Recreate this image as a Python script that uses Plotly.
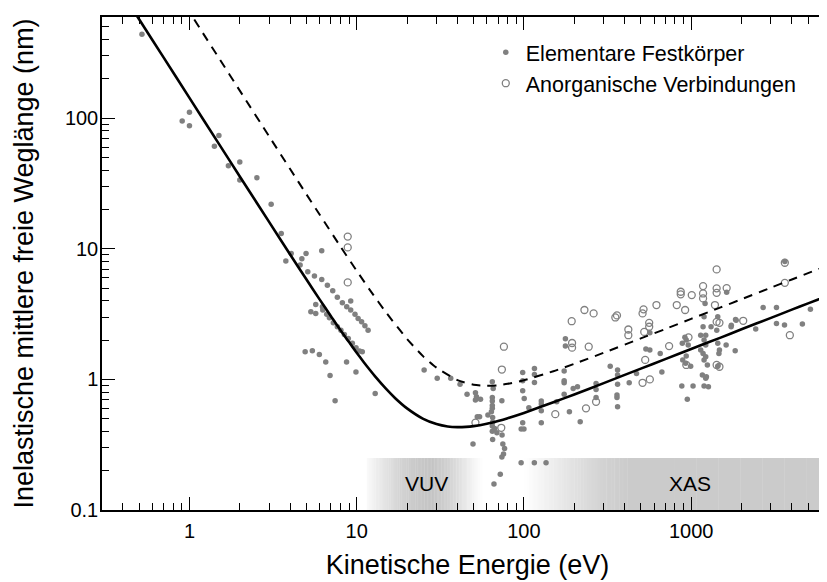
import math
import plotly.graph_objects as go

# ---------------- data ----------------
# Elementare Festkörper (filled dots): kinetic energy (eV), IMFP (nm)
elem_E = [0.52, 0.905, 1.0, 1.0, 1.50, 1.41, 1.71, 2.0, 2.0, 2.53, 3.08, 3.54, 3.77, 4.06, 4.70,
          4.98, 4.59, 5.1, 6.18, 5.59, 6.18, 6.68, 7.19, 7.66, 9.21, 8.21, 8.72, 9.21, 9.77, 10.2,
          10.7, 11.2, 11.7, 5.69, 6.24, 5.32, 5.69, 6.27, 6.62, 6.87, 7.25, 7.66, 8.05, 8.44, 8.91,
          9.42, 9.91, 10.4, 10.8, 4.92, 5.43, 5.98, 6.53, 8.7, 6.93, 9.9, 12.9, 7.43,
          25.3, 30.3, 36.5, 41.5, 45.7, 51.3, 52, 51.3, 55, 64.7, 64.7, 64.7, 64.7, 63.9, 73.8,
          60.9, 54.3, 52.6, 65, 65, 66.8, 68.9, 65, 49.6, 74.8, 76.6, 75.5, 73.8, 72.2, 66.2,
          96.2, 115.4, 135.6, 64.7, 64.7, 64.7, 74, 65.5,
          98.3, 98.3, 98.3, 100.4, 115.6, 115.6, 115.6, 107, 98.3, 96.3, 100, 127, 127, 127, 127,
          157, 177, 177, 174, 174, 174, 174, 187, 197, 209, 217, 270, 270, 270, 328, 363, 363,
          363, 360, 360, 363, 426, 471,
          536, 566, 653, 668, 566, 917, 934, 885, 960, 890, 927, 993, 934, 879, 1026, 948, 1194,
          1178, 1222, 1140, 1194, 1222, 1140, 1178, 1222, 1194, 1250, 1167, 1233, 1222, 1194,
          1268, 1315, 1422, 1442, 1476, 1465, 1442, 1618, 1733, 1857, 1833, 1211, 1442, 1630,
          3631, 2693, 3236, 3236, 3614, 4624, 5164, 1842, 1738, 2432]
elem_L = [440, 95, 111, 87.5, 73.8, 61, 43.2, 46.1, 33.6, 35, 21.9, 13.1, 8.05, 9.2, 8.4,
          9.2, 7.5, 6.67, 9.66, 6.2, 5.83, 5.27, 4.77, 4.25, 3.98, 3.86, 3.6, 3.4, 3.15, 2.93,
          2.76, 2.57, 2.38, 3.75, 3.6, 3.29, 3.2, 3.4, 3.15, 2.96, 2.71, 2.53, 2.38, 2.21, 2.06,
          1.89, 1.75, 1.65, 1.63, 1.63, 1.66, 1.55, 1.36, 1.36, 1.07, 1.14, 0.78, 0.686,
          1.18, 1.02, 1.02, 0.92, 0.77, 0.79, 0.736, 0.694, 0.706, 0.96, 0.728, 0.682, 0.60, 0.565,
          0.686, 0.533, 0.518, 0.518, 0.511, 0.469, 0.42, 0.39, 0.347, 0.32, 0.32, 0.296, 0.268,
          0.255, 0.188, 0.158, 0.23, 0.23, 0.23, 0.63, 0.44, 0.40, 0.375, 0.853,
          1.13, 0.976, 0.818, 0.715, 1.21, 1.09, 0.948, 0.606, 0.466, 0.417, 0.417, 0.682, 0.647,
          0.575, 0.466, 0.674, 2.05, 1.80, 1.16, 0.976, 0.942, 0.768, 0.565, 0.853, 0.877, 0.473,
          0.932, 0.838, 0.728, 1.26, 1.18, 1.08, 0.92, 0.76, 0.728, 0.617, 0.942, 1.11,
          1.71, 1.68, 1.58, 1.14, 2.28, 2.1, 2.0, 1.89, 1.83, 1.41, 1.33, 1.26, 1.51, 0.889, 0.889,
          0.706, 3.02, 2.53, 2.18, 2.18, 2.0, 1.83, 1.68, 1.58, 1.49, 1.41, 1.29, 1.08, 1.05, 1.02,
          0.889, 0.878, 2.53, 2.38, 1.89, 1.68, 1.58, 1.26, 1.83, 2.53, 2.84, 1.66, 3.82, 3.02,
          4.65, 8.0, 3.56, 3.56, 2.68, 2.61, 2.65, 3.44, 2.88, 2.6, 2.43]

# Anorganische Verbindungen (open circles)
comp_E = [8.84, 8.84, 8.84, 75.9, 73.8, 51.3, 73.2, 193, 230, 261, 352, 360, 194, 194, 244,
          421, 421, 154, 235, 270, 519, 512, 620, 561, 561, 524, 531, 512, 566, 738, 820, 866,
          866, 920, 1008, 1178, 1178, 1178, 1420, 1420, 1420, 1630, 1387, 1420, 1476, 964, 935,
          1420, 1476, 3631, 3631, 2047, 3890]
comp_L = [12.4, 10.25, 5.53, 1.78, 1.19, 0.466, 0.426, 2.79, 3.4, 3.2, 2.98, 3.09, 1.9, 1.75,
          1.78, 2.41, 2.18, 0.542, 0.60, 0.674, 3.44, 3.2, 3.71, 2.71, 2.53, 2.31, 1.41, 0.942,
          1.0, 1.8, 3.71, 4.69, 4.48, 3.4, 4.42, 5.18, 4.55, 4.17, 6.95, 4.98, 4.6, 5.0, 3.71,
          2.76, 2.71, 2.1, 1.29, 1.29, 1.25, 7.82, 5.49, 2.81, 2.18]

# Universal curve, elements (solid line)
curve_elem_E = [0.45, 0.5, 0.7, 1, 1.5, 2, 3, 4, 5, 6, 7, 8, 9, 10, 11, 12, 13, 15, 17, 20, 25,
                30, 35, 40, 45, 50, 60, 70, 80, 100, 150, 200, 300, 500, 700, 1000, 1500, 2000,
                3000, 4000, 5000, 6500, 8000]
curve_elem_L = [706, 572, 292, 143, 63.6, 35.8, 16.0, 9.05, 5.84, 4.10, 3.06, 2.38, 1.93, 1.60,
                1.36, 1.18, 1.04, 0.845, 0.718, 0.60, 0.499, 0.455, 0.436, 0.431, 0.433, 0.439,
                0.458, 0.481, 0.505, 0.554, 0.668, 0.767, 0.937, 1.21, 1.43, 1.71, 2.09, 2.42,
                2.96, 3.42, 3.82, 4.35, 4.83]

# Universal curve, inorganic compounds (dashed line)
curve_comp_E = [0.95, 1.0, 1.2, 1.5, 2, 3, 4, 5, 6, 8, 10, 12, 15, 20, 25, 30, 40, 50, 60, 70,
                80, 100, 150, 200, 300, 500, 700, 1000, 1500, 2000, 3000, 4000, 5000, 6500, 8000]
curve_comp_L = [720, 650, 451, 289, 162.6, 72.4, 40.8, 26.2, 18.3, 10.4, 6.79, 4.83, 3.25, 2.04,
                1.50, 1.23, 0.988, 0.91, 0.893, 0.902, 0.925, 0.985, 1.155, 1.317, 1.60, 2.06,
                2.43, 2.91, 3.56, 4.11, 5.04, 5.82, 6.51, 7.42, 8.23]

# Shaded spectral ranges (energy stops and grey level 0-255)
vuv_E = [11.5, 14, 18, 23, 28, 34, 42, 50, 57]
vuv_gray = [250, 232, 212, 200, 197, 206, 226, 244, 255]
xas_E = [100, 140, 200, 300, 430, 9000]
xas_gray = [255, 240, 225, 210, 203, 203]
band_top = 0.25
band_labels = ["VUV", "XAS"]
band_label_E = [26, 980]
band_label_L = 0.16

x_tick_vals = [1, 10, 100, 1000]
x_tick_text = ["1", "10", "100", "1000"]
y_tick_vals = [0.1, 1, 10, 100]
y_tick_text = ["0.1", "1", "10", "100"]

FONT = "Liberation Sans, Arial, Helvetica, sans-serif"
GREY = "#808080"

fig = go.Figure()

# gradient bands as thin rectangles
shapes = []
for Es, gs in ((vuv_E, vuv_gray), (xas_E, xas_gray)):
    for i in range(len(Es) - 1):
        l0, l1 = math.log10(Es[i]), math.log10(Es[i + 1])
        n = 10
        for k in range(n):
            a0 = l0 + (l1 - l0) * k / n
            a1 = l0 + (l1 - l0) * (k + 1) / n
            t = (k + 0.5) / n
            g = int(round(gs[i] + (gs[i + 1] - gs[i]) * t))
            shapes.append(dict(type="rect", xref="x", yref="y",
                               x0=10 ** a0, x1=10 ** (a1 + 0.002), y0=0.1, y1=band_top,
                               fillcolor=f"rgb({g},{g},{g})", line=dict(width=0),
                               layer="below"))

fig.add_trace(go.Scatter(x=elem_E, y=elem_L, mode="markers", name="Elementare Festkörper",
                         marker=dict(symbol="circle", size=5.5, color=GREY)))
fig.add_trace(go.Scatter(x=comp_E, y=comp_L, mode="markers", name="Anorganische Verbindungen",
                         marker=dict(symbol="circle-open", size=7, color=GREY,
                                     line=dict(width=1.3, color=GREY))))
fig.add_trace(go.Scatter(x=curve_comp_E, y=curve_comp_L, mode="lines", showlegend=False,
                         line=dict(color="black", width=2, dash="9px,7px", shape="spline",
                                   smoothing=0.6)))
fig.add_trace(go.Scatter(x=curve_elem_E, y=curve_elem_L, mode="lines", showlegend=False,
                         line=dict(color="black", width=2.6, shape="spline", smoothing=0.6)))

minor_x = [m * 10 ** d for d in range(-1, 4) for m in range(2, 10) if 0.3 <= m * 10 ** d <= 9000]
minor_y = [m * 10 ** d for d in range(-1, 3) for m in range(2, 10) if m * 10 ** d <= 600]

annotations = [dict(x=math.log10(e), y=math.log10(band_label_L), xref="x", yref="y", text=t,
                    showarrow=False, font=dict(family=FONT, size=21, color="black"))
               for t, e in zip(band_labels, band_label_E)]

# page has an 8px body margin: plot area lands at page x 102..835, y 17..510
L_M, R_M, T_M, B_M = 94, 0, 9, 80
plot_w = 827 - L_M - R_M
plot_h = 582 - T_M - B_M
x_lo = math.log10(0.3)
y_lo = -1
fig.update_layout(
    width=827, height=582,
    margin=dict(l=L_M, r=R_M, t=T_M, b=B_M),
    paper_bgcolor="white", plot_bgcolor="white",
    font=dict(family=FONT, size=20, color="black"),
    shapes=shapes,
    annotations=annotations,
    showlegend=True,
    legend=dict(x=0.525, y=0.970, xanchor="left", yanchor="top", bgcolor="rgba(0,0,0,0)",
                font=dict(family=FONT, size=21.5, color="black"), tracegroupgap=0),
    xaxis=dict(type="log", range=[x_lo, x_lo + plot_w / 167.7],
               showline=True, linecolor="black", linewidth=1.5, mirror="ticks",
               ticks="inside", ticklen=13, tickwidth=1, tickcolor="black",
               tickvals=x_tick_vals, ticktext=x_tick_text,
               tickfont=dict(family=FONT, size=20, color="black"), ticklabelstandoff=2,
               minor=dict(ticks="inside", ticklen=7, tickwidth=1, tickcolor="black",
                          tickvals=minor_x, showgrid=False),
               showgrid=False, zeroline=False,
               title=dict(text="Kinetische Energie (eV)", font=dict(family=FONT, size=27),
                          standoff=14)),
    yaxis=dict(type="log", range=[y_lo, y_lo + plot_h / 130.6],
               showline=True, linecolor="black", linewidth=1.5, mirror="ticks",
               ticks="inside", ticklen=13, tickwidth=1, tickcolor="black",
               tickvals=y_tick_vals, ticktext=y_tick_text,
               tickfont=dict(family=FONT, size=20, color="black"), ticklabelstandoff=-2,
               minor=dict(ticks="inside", ticklen=7, tickwidth=1, tickcolor="black",
                          tickvals=minor_y, showgrid=False),
               showgrid=False, zeroline=False,
               title=dict(text="Inelastische mittlere freie Weglänge (nm)",
                          font=dict(family=FONT, size=27), standoff=23)),
)

fig.write_html("out.html")
